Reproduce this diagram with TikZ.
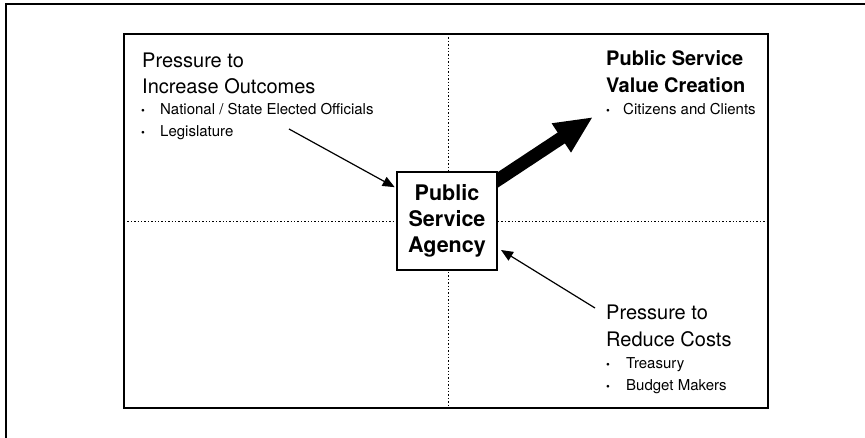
\documentclass[tikz,border=0pt]{standalone}
\usepackage{fontspec}
\setmainfont{TeX Gyre Heros}
\usetikzlibrary{arrows.meta,backgrounds}

\tikzset{
  border/.style={line width=1.4pt},
  quadline/.style={line width=0.9pt, dash pattern=on 1.4pt off 2pt},
  title/.style={anchor=base west, inner sep=0pt, font=\fontsize{20}{26}\selectfont},
  item/.style={anchor=base west, inner sep=0pt, font=\fontsize{15}{18}\selectfont},
  bullet/.style={anchor=base west, inner sep=0pt, font=\fontsize{11}{11}\selectfont},
  push/.style={line width=1.2pt, -{Triangle[length=12pt,width=10pt]}},
  gain/.style={line width=13pt, -{Triangle[length=38pt,width=32pt]}},
}

\begin{document}
\begin{tikzpicture}[x=1pt,y=-1pt]
    \useasboundingbox (0,0) rectangle (865,438);
    \draw[border] (6,438)--(6,4)--(865,4);
    \draw[border] (124,34) rectangle (768,408);

    \node[draw, fill=white, line width=1.2pt, minimum width=100pt, minimum height=98pt,
          inner sep=0pt, align=center, font=\fontsize{21.5}{26}\selectfont\bfseries]
          (agency) at (447,221) {Public\\Service\\Agency};

    \coordinate (incr) at (289,129);
    \coordinate (cost) at (595,308);
    \coordinate (valtip) at (593,117);

    \begin{pgfonlayer}{background}
        \draw[quadline] (448,34)--(448,408);
        \draw[quadline] (124,221)--(768,221);
        \draw[gain, shorten <=-8pt] (agency.39)--(valtip);
    \end{pgfonlayer}
    \draw[push, shorten >=2pt] (incr)--(agency.147);
    \draw[push, shorten >=4pt] (cost)--(agency.-28);

    % upper left: outcomes
    \node[title] (inc1) at (142,68) {Pressure to};
    \node[title] (inc2) at (142,94) {Increase Outcomes};
    \node[bullet] (incb1) at (141,115) {•};
    \node[item] (inc3) at (160,115) {National / State Elected Officials};
    \node[bullet] (incb2) at (141,137) {•};
    \node[item] (inc4) at (160,137) {Legislature};

    % upper right: value
    \node[title, font=\fontsize{20}{26}\selectfont\bfseries] (val1) at (606,66) {Public Service};
    \node[title, font=\fontsize{20}{26}\selectfont\bfseries] (val2) at (606,93) {Value Creation};
    \node[bullet] (valb1) at (606,115) {•};
    \node[item] (val3) at (623,115) {Citizens and Clients};

    % lower right: costs
    \node[title] (red1) at (606,320) {Pressure to};
    \node[title] (red2) at (606,346) {Reduce Costs};
    \node[bullet] (redb1) at (606,368) {•};
    \node[item] (red3) at (626,368) {Treasury};
    \node[bullet] (redb2) at (606,390) {•};
    \node[item] (red4) at (626,390) {Budget Makers};
\end{tikzpicture}
\end{document}
